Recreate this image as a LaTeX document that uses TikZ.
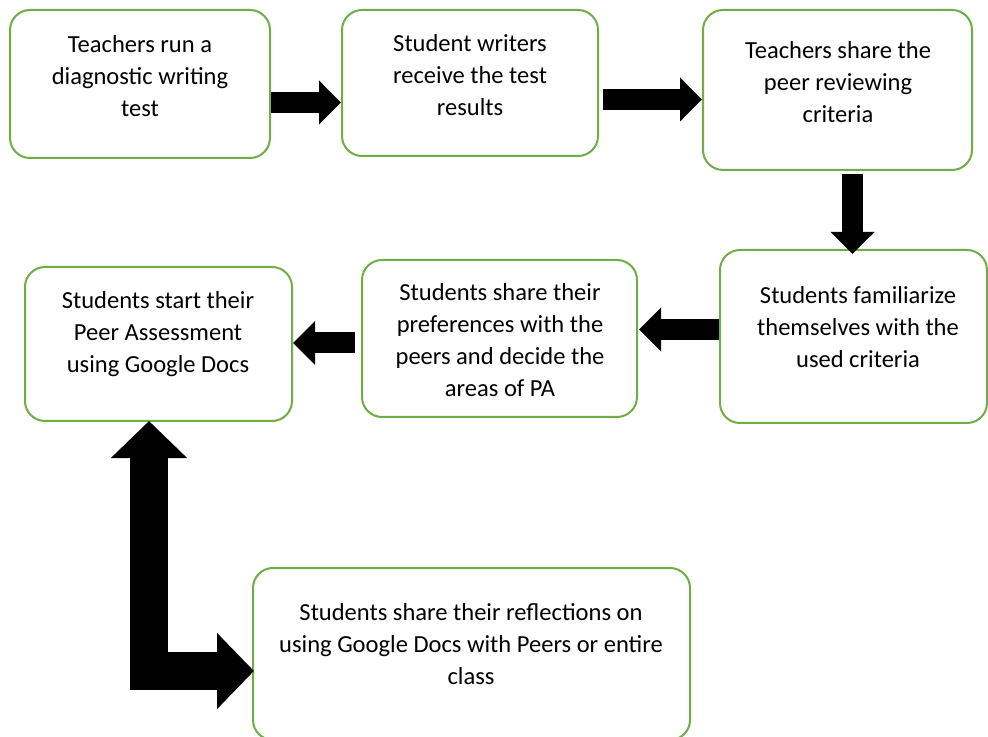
\documentclass[tikz,border=0pt]{standalone}
\usepackage{fontspec}
\setmainfont{Carlito}
\usepackage{tikz}
\usetikzlibrary{arrows.meta,calc}
\definecolor{boxgreen}{HTML}{70AD47}
\tikzset{
  stepbox/.style={draw=boxgreen, line width=1.5pt, rounded corners=15pt},
  steptext/.style={align=center, inner sep=0pt, font=\fontsize{18.4}{24}\selectfont},
  blockarrow/.style={line width=15.75pt, -{Triangle[width=32pt,length=16.5pt]}},
  bigarrow/.style={line width=28.5pt, {Triangle[width=55.5pt,length=27.75pt]}-{Triangle[width=55.5pt,length=27.75pt]}}
}

\begin{document}
\begin{tikzpicture}[x=0.75pt,y=-0.75pt]
\useasboundingbox (0,0) rectangle (988,737);
% boxes
\node[stepbox, minimum width=195pt, minimum height=111pt] (b1) at (140,84) {};
\node[stepbox, minimum width=192pt, minimum height=109.5pt] (b2) at (470,83) {};
\node[stepbox, minimum width=201.75pt, minimum height=120pt] (b3) at (837.5,90) {};
\node[stepbox, minimum width=200.25pt, minimum height=129.75pt] (b4) at (853.5,336.5) {};
\node[stepbox, minimum width=206.25pt, minimum height=117.75pt] (b5) at (499.5,338.5) {};
\node[stepbox, minimum width=200.25pt, minimum height=115.5pt] (b6) at (158.5,344) {};
\node[stepbox, minimum width=327.75pt, minimum height=129pt] (b7) at (471.5,654) {};
% texts
\node[steptext] (t1) at (140,76) {Teachers run a\\diagnostic writing\\test};
\node[steptext] (t2) at (470,75) {Student writers\\receive the test\\results};
\node[steptext] (t3) at (838,82.5) {Teachers share the\\peer reviewing\\criteria};
\node[steptext] (t4) at (858,327.5) {Students familiarize\\themselves with the\\used criteria};
\node[steptext] (t5) at (500,340) {Students share their\\preferences with the\\peers and decide the\\areas of PA};
\node[steptext] (t6) at (158,334.5) {Students start their\\Peer Assessment\\using Google Docs};
\node[steptext] (t7) at (471,644.5) {Students share their reflections on\\using Google Docs with Peers or entire\\class};
% arrows
\draw[blockarrow] ($(b1.east)+(0,18.5)$) -- ($(b2.west)+(0,19.5)$);
\draw[blockarrow] ($(b2.east)+(4,16.5)$) -- ($(b3.west)+(0,9.5)$);
\draw[blockarrow] ($(b3.south)+(15,3)$) -- ($(b4.north)+(-1,5)$);
\draw[blockarrow] ($(b4.west)+(0,-7)$) -- ($(b5.east)+(1,-9)$);
\draw[blockarrow] ($(b5.west)+(-6,4.5)$) -- ($(b6.east)+(0,-1)$);
\draw[bigarrow] ($(b6.south)+(-9.5,-1)$) |- ($(b7.west)+(2,17)$);
\end{tikzpicture}
\end{document}
